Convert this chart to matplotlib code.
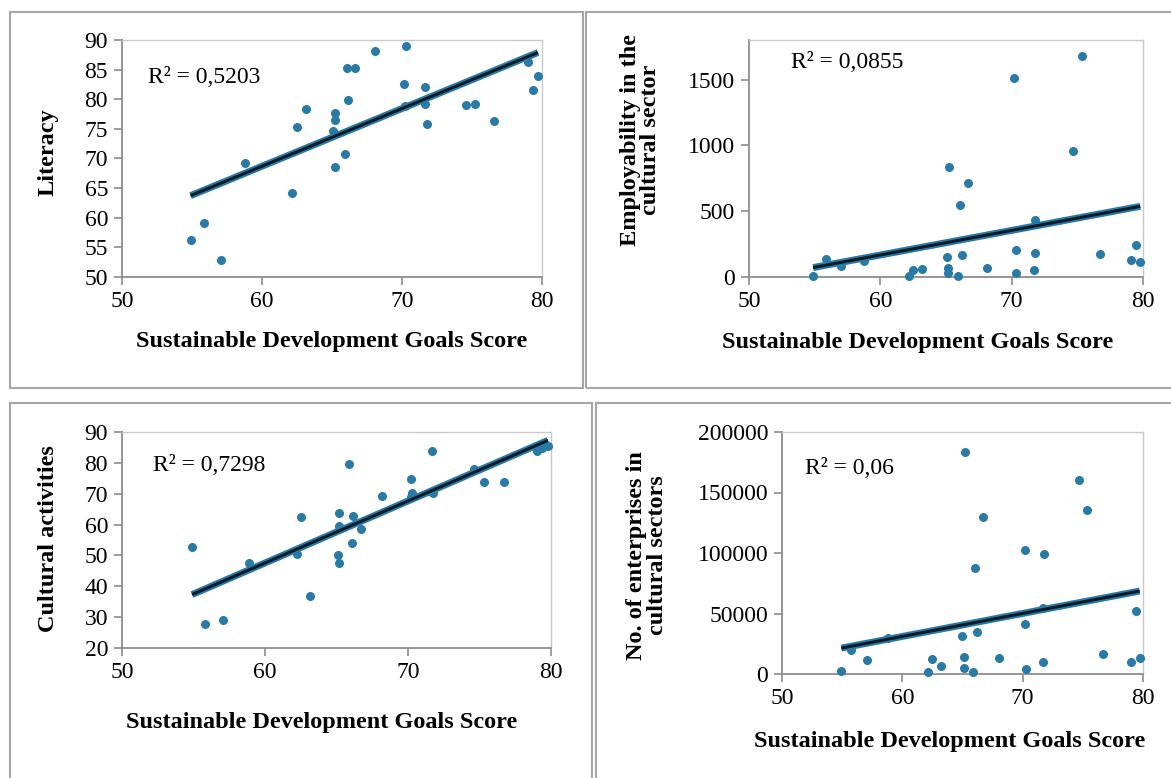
import numpy as np
import matplotlib
matplotlib.use("Agg")
import matplotlib.pyplot as plt
from matplotlib.patches import Rectangle

plt.rcParams['font.family'] = ['Liberation Serif', 'DejaVu Serif']

# Sustainable Development Goals score (x) and the four indicators
sdg_lit = [54.9, 55.86, 57.05, 58.76, 62.14, 62.52, 63.17, 65.19, 65.19, 65.1,
           65.19, 65.9, 66.17, 66.1, 66.67, 68.1, 70.29, 70.12, 70.19, 71.67,
           71.67, 71.76, 74.6, 75.24, 76.6, 79.0, 79.36, 79.71]
literacy = [56.3, 59.1, 52.8, 69.3, 64.2, 75.4, 78.3, 77.7, 76.5, 74.6,
            68.5, 70.7, 79.9, 85.3, 85.3, 88.1, 89.0, 82.6, 78.8, 82.0,
            79.2, 75.9, 79.0, 79.2, 76.4, 86.3, 81.5, 84.0]

sdg_emp = [54.88, 55.84, 57.01, 58.76, 62.19, 62.47, 63.16, 65.06, 65.14, 65.14,
           65.21, 65.9, 66.08, 66.2, 66.66, 68.11, 70.17, 70.3, 70.3, 71.74,
           71.74, 71.67, 74.66, 75.37, 76.72, 79.08, 79.46, 79.79]
employ = [8, 137, 84, 122, 8, 51, 58, 152, 71, 30,
          834, 8, 548, 165, 715, 68, 1508, 205, 28, 431,
          185, 51, 958, 1676, 175, 127, 246, 117]

sdg_cult = [54.9, 55.79, 57.05, 58.85, 62.23, 62.49, 63.12, 65.15, 65.15, 65.1,
            65.18, 65.88, 66.09, 66.18, 66.72, 68.16, 70.2, 70.29, 70.2, 71.71,
            71.76, 71.67, 74.59, 75.31, 76.73, 79.05, 79.37, 79.79]
cultural = [52.8, 27.8, 29.1, 47.4, 50.6, 62.4, 37.0, 63.6, 59.5, 50.3,
            47.4, 79.5, 54.1, 62.7, 58.6, 69.4, 74.9, 70.1, 69.0, 84.0,
            70.2, 70.6, 77.9, 73.7, 73.7, 84.0, 84.9, 85.5]

sdg_ent = [54.93, 55.76, 57.04, 58.84, 62.16, 62.47, 63.21, 64.99, 65.12, 65.12,
           65.24, 65.84, 66.07, 66.18, 66.73, 68.06, 70.19, 70.19, 70.28, 71.77,
           71.66, 71.69, 74.65, 75.32, 76.68, 78.98, 79.42, 79.72]
enterprises = [2800, 19600, 11300, 29500, 1700, 12100, 6900, 31200, 14300, 4700,
               183700, 1700, 87700, 34500, 129400, 13500, 102600, 41100, 3900, 99300,
               54300, 10200, 160300, 135700, 16600, 10200, 51900, 13500]

r2_text = ["R² = 0,5203", "R² = 0,0855", "R² = 0,7298", "R² = 0,06"]
xlabel = "Sustainable Development Goals Score"
ylabels = ["Literacy", "Employability in the\ncultural sector",
           "Cultural activities", "No. of enterprises in\ncultural sectors"]

W, H = 1171, 778
fig = plt.figure(figsize=(W / 100, H / 100), dpi=100)

# panel frames (pixel boxes: left, top, right, bottom)
for l, t, r, b in [(10, 12, 583, 388), (586, 12, 1185, 388),
                   (10, 403, 592, 800), (596, 403, 1185, 800)]:
    fig.add_artist(Rectangle((l / W, 1 - b / H), (r - l) / W, (b - t) / H,
                             transform=fig.transFigure, fill=False,
                             edgecolor='#a6a6a6', lw=1.5, clip_on=False))


def panel(box, x, y, ylim, yticks, ylab, r2, xl_pos, yl_pos, r2_pos):
    l, t, r, b = box
    ax = fig.add_axes([l / W, 1 - b / H, (r - l) / W, (b - t) / H])
    x = np.array(x)
    y = np.array(y)
    ax.scatter(x, y, s=30, color='#2a7aa6', zorder=3, clip_on=False)
    # linear trendline
    k, c = np.polyfit(x, y, 1)
    xs = np.array([x.min(), x.max()])
    ax.plot(xs, k * xs + c, color='#2a7aa6', lw=5, zorder=4, solid_capstyle='butt')
    ax.plot(xs, k * xs + c, color='#0b1c28', lw=2.2, zorder=5, solid_capstyle='butt')
    ax.set_xlim(50, 80)
    ax.set_xticks([50, 60, 70, 80])
    ax.set_ylim(*ylim)
    ax.set_yticks(yticks)
    for s in ['left', 'bottom']:
        ax.spines[s].set_color('#8c8c8c')
        ax.spines[s].set_linewidth(1.3)
    for s in ['top', 'right']:
        ax.spines[s].set_color('#c8c8c8')
        ax.spines[s].set_linewidth(1.0)
    ax.tick_params(direction='out', length=6, width=1.2, color='#8c8c8c',
                   labelsize=17, pad=4)
    ax.set_xlabel(xlabel, fontsize=17.5, fontweight='bold')
    ax.xaxis.set_label_coords(*xl_pos)
    ax.xaxis.label.set_va('center')
    ax.set_ylabel(ylab, fontsize=17.5, fontweight='bold', linespacing=0.95)
    ax.yaxis.set_label_coords(*yl_pos)
    ax.yaxis.label.set_va('center')
    ax.text(r2_pos[0], r2_pos[1], r2, transform=ax.transAxes, fontsize=17,
            va='center', ha='left')
    return ax


panel((122, 40, 542, 277), sdg_lit, literacy, (50, 90), range(50, 91, 5),
      ylabels[0], r2_text[0], (0.5, -0.274), (-0.176, 0.527), (0.062, 0.84))
panel((749, 40, 1143, 277), sdg_emp, employ, (0, 1800), [0, 500, 1000, 1500],
      ylabels[1], r2_text[1], (0.429, -0.278), (-0.275, 0.58), (0.107, 0.907))
panel((122, 432, 551, 648), sdg_cult, cultural, (20, 90), range(20, 91, 10),
      ylabels[2], r2_text[2], (0.466, -0.343), (-0.172, 0.505), (0.072, 0.843))
panel((782, 432, 1143, 674), sdg_ent, enterprises, (0, 200000),
      [0, 50000, 100000, 150000, 200000],
      ylabels[3], r2_text[3], (0.465, -0.277), (-0.374, 0.49), (0.064, 0.851))

fig.savefig("out.png", dpi=100)
